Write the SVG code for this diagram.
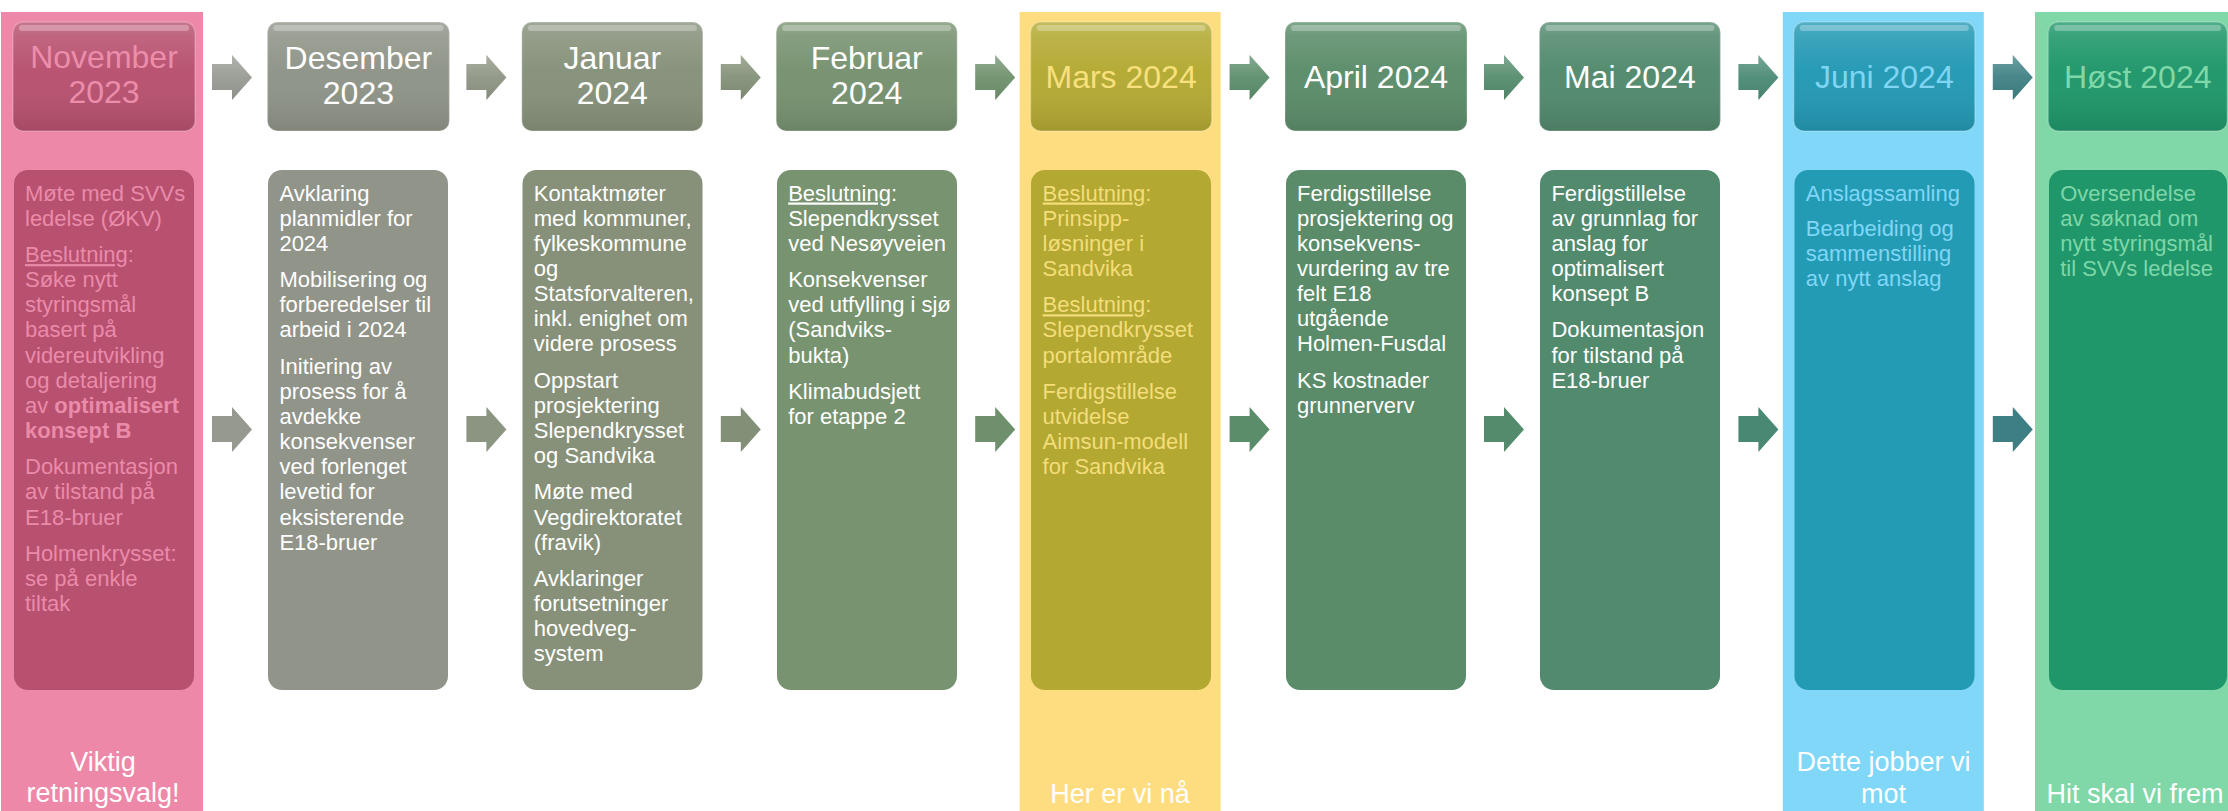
<svg xmlns="http://www.w3.org/2000/svg" xmlns:xlink="http://www.w3.org/1999/xlink" width="2228" height="811" viewBox="0 0 2228 811">
<style>
text{font-family:"Liberation Sans",Arial,Helvetica,sans-serif}
.hd{font-size:32px;text-anchor:middle}
.bd{font-size:22px}
.lb{font-size:27px;fill:#ffffff;text-anchor:middle}
.w{fill:#ffffff}
.u{text-decoration:underline}
.b{font-weight:bold}
.gl{fill:url(#gloss)}
.hl{fill:#ffffff;fill-opacity:0.28}
.rim{fill:none;stroke:#ffffff;stroke-opacity:0.22;stroke-width:1.5}
</style>
<defs>
<linearGradient id="gloss" x1="0" y1="0" x2="0" y2="1">
<stop offset="0" stop-color="#ffffff" stop-opacity="0.22"/>
<stop offset="0.12" stop-color="#ffffff" stop-opacity="0.12"/>
<stop offset="0.45" stop-color="#ffffff" stop-opacity="0.02"/>
<stop offset="1" stop-color="#000000" stop-opacity="0.10"/>
</linearGradient>
<linearGradient id="sheen" x1="0" y1="0" x2="0" y2="1">
<stop offset="0" stop-color="#ffffff" stop-opacity="0.25"/>
<stop offset="0.5" stop-color="#ffffff" stop-opacity="0.05"/>
<stop offset="1" stop-color="#000000" stop-opacity="0.08"/>
</linearGradient>
<path id="arr" d="M0,9 H20 V0 L40,22.5 L20,45 V35 H0 Z"/>
</defs>

<!-- November -->
<g id="nov">
<rect x="1" y="12" width="202" height="799" fill="#EE88A8"/>
<rect x="13" y="22" width="182" height="109" rx="10" fill="#B8516F"/>
<rect x="13" y="22" width="182" height="109" rx="10" class="gl"/>
<rect x="19" y="25" width="170" height="6" rx="3" class="hl"/>
<rect x="13" y="22" width="182" height="109" rx="10" class="rim"/>
<text class="hd" fill="#EC8DAB"><tspan x="104" y="68">November</tspan><tspan x="104" y="103">2023</tspan></text>
<rect x="14" y="170" width="180" height="520" rx="14" fill="#B85070"/>
<text class="bd" fill="#EA8BAA">
<tspan x="25" y="200.5">Møte med SVVs</tspan>
<tspan x="25" y="225.6">ledelse (ØKV)</tspan>
<tspan x="25" y="262.1"><tspan class="u">Beslutning</tspan>:</tspan>
<tspan x="25" y="287.2">Søke nytt</tspan>
<tspan x="25" y="312.3">styringsmål</tspan>
<tspan x="25" y="337.4">basert på</tspan>
<tspan x="25" y="362.5">videreutvikling</tspan>
<tspan x="25" y="387.6">og detaljering</tspan>
<tspan x="25" y="412.7">av <tspan class="b">optimalisert</tspan></tspan>
<tspan x="25" y="437.8" class="b">konsept B</tspan>
<tspan x="25" y="474.3">Dokumentasjon</tspan>
<tspan x="25" y="499.4">av tilstand på</tspan>
<tspan x="25" y="524.5">E18-bruer</tspan>
<tspan x="25" y="561">Holmenkrysset:</tspan>
<tspan x="25" y="586.1">se på enkle</tspan>
<tspan x="25" y="611.2">tiltak</tspan>
</text>
<text class="lb"><tspan x="103" y="771">Viktig</tspan><tspan x="103" y="802">retningsvalg!</tspan></text>
</g>

<!-- Desember -->
<g id="des">
<rect x="267.4" y="22" width="182" height="109" rx="10" fill="#8F9488"/>
<rect x="267.4" y="22" width="182" height="109" rx="10" class="gl"/>
<rect x="273.4" y="25" width="170" height="6" rx="3" class="hl"/>
<rect x="267.4" y="22" width="182" height="109" rx="10" class="rim"/>
<text class="hd w"><tspan x="358.4" y="69">Desember</tspan><tspan x="358.4" y="104">2023</tspan></text>
<rect x="268" y="170" width="180" height="520" rx="14" fill="#919489"/>
<text class="bd w">
<tspan x="279.4" y="200.5">Avklaring</tspan>
<tspan x="279.4" y="225.6">planmidler for</tspan>
<tspan x="279.4" y="250.7">2024</tspan>
<tspan x="279.4" y="287.2">Mobilisering og</tspan>
<tspan x="279.4" y="312.3">forberedelser til</tspan>
<tspan x="279.4" y="337.4">arbeid i 2024</tspan>
<tspan x="279.4" y="373.9">Initiering av</tspan>
<tspan x="279.4" y="399">prosess for å</tspan>
<tspan x="279.4" y="424.1">avdekke</tspan>
<tspan x="279.4" y="449.2">konsekvenser</tspan>
<tspan x="279.4" y="474.3">ved forlenget</tspan>
<tspan x="279.4" y="499.4">levetid for</tspan>
<tspan x="279.4" y="524.5">eksisterende</tspan>
<tspan x="279.4" y="549.6">E18-bruer</tspan>
</text>
</g>

<!-- Januar -->
<g id="jan">
<rect x="521.8" y="22" width="181" height="109" rx="10" fill="#86917A"/>
<rect x="521.8" y="22" width="181" height="109" rx="10" class="gl"/>
<rect x="527.8" y="25" width="169" height="6" rx="3" class="hl"/>
<rect x="521.8" y="22" width="181" height="109" rx="10" class="rim"/>
<text class="hd w"><tspan x="612.3" y="69">Januar</tspan><tspan x="612.3" y="104">2024</tspan></text>
<rect x="522.5" y="170" width="180" height="520" rx="14" fill="#879179"/>
<text class="bd w">
<tspan x="533.8" y="200.5">Kontaktmøter</tspan>
<tspan x="533.8" y="225.6">med kommuner,</tspan>
<tspan x="533.8" y="250.7">fylkeskommune</tspan>
<tspan x="533.8" y="275.8">og</tspan>
<tspan x="533.8" y="300.9">Statsforvalteren,</tspan>
<tspan x="533.8" y="326">inkl. enighet om</tspan>
<tspan x="533.8" y="351.1">videre prosess</tspan>
<tspan x="533.8" y="387.6">Oppstart</tspan>
<tspan x="533.8" y="412.7">prosjektering</tspan>
<tspan x="533.8" y="437.8">Slependkrysset</tspan>
<tspan x="533.8" y="462.9">og Sandvika</tspan>
<tspan x="533.8" y="499.4">Møte med</tspan>
<tspan x="533.8" y="524.5">Vegdirektoratet</tspan>
<tspan x="533.8" y="549.6">(fravik)</tspan>
<tspan x="533.8" y="586.1">Avklaringer</tspan>
<tspan x="533.8" y="611.2">forutsetninger</tspan>
<tspan x="533.8" y="636.3">hovedveg-</tspan>
<tspan x="533.8" y="661.4">system</tspan>
</text>
</g>

<!-- Februar -->
<g id="feb">
<rect x="776.2" y="22" width="181" height="109" rx="10" fill="#779270"/>
<rect x="776.2" y="22" width="181" height="109" rx="10" class="gl"/>
<rect x="782.2" y="25" width="169" height="6" rx="3" class="hl"/>
<rect x="776.2" y="22" width="181" height="109" rx="10" class="rim"/>
<text class="hd w"><tspan x="866.7" y="69">Februar</tspan><tspan x="866.7" y="104">2024</tspan></text>
<rect x="777" y="170" width="180" height="520" rx="14" fill="#78936F"/>
<text class="bd w">
<tspan x="788.2" y="200.5"><tspan class="u">Beslutning</tspan>:</tspan>
<tspan x="788.2" y="225.6">Slependkrysset</tspan>
<tspan x="788.2" y="250.7">ved Nesøyveien</tspan>
<tspan x="788.2" y="287.2">Konsekvenser</tspan>
<tspan x="788.2" y="312.3">ved utfylling i sjø</tspan>
<tspan x="788.2" y="337.4">(Sandviks-</tspan>
<tspan x="788.2" y="362.5">bukta)</tspan>
<tspan x="788.2" y="399">Klimabudsjett</tspan>
<tspan x="788.2" y="424.1">for etappe 2</tspan>
</text>
</g>

<!-- Mars -->
<g id="mar">
<rect x="1019.6" y="12" width="201" height="799" fill="#FEDD80"/>
<rect x="1030.6" y="22" width="181" height="109" rx="10" fill="#B3AA33"/>
<rect x="1030.6" y="22" width="181" height="109" rx="10" class="gl"/>
<rect x="1036.6" y="25" width="169" height="6" rx="3" class="hl"/>
<rect x="1030.6" y="22" width="181" height="109" rx="10" class="rim"/>
<text class="hd" fill="#F8E07D"><tspan x="1121.1" y="88">Mars 2024</tspan></text>
<rect x="1031" y="170" width="180" height="520" rx="14" fill="#B2A832"/>
<text class="bd" fill="#F4DD7A">
<tspan x="1042.6" y="200.5"><tspan class="u">Beslutning</tspan>:</tspan>
<tspan x="1042.6" y="225.6">Prinsipp-</tspan>
<tspan x="1042.6" y="250.7">løsninger i</tspan>
<tspan x="1042.6" y="275.8">Sandvika</tspan>
<tspan x="1042.6" y="312.3"><tspan class="u">Beslutning</tspan>:</tspan>
<tspan x="1042.6" y="337.4">Slependkrysset</tspan>
<tspan x="1042.6" y="362.5">portalområde</tspan>
<tspan x="1042.6" y="399">Ferdigstillelse</tspan>
<tspan x="1042.6" y="424.1">utvidelse</tspan>
<tspan x="1042.6" y="449.2">Aimsun-modell</tspan>
<tspan x="1042.6" y="474.3">for Sandvika</tspan>
</text>
<text class="lb"><tspan x="1120" y="803">Her er vi nå</tspan></text>
</g>

<!-- April -->
<g id="apr">
<rect x="1285" y="22" width="182" height="109" rx="10" fill="#5B8D6A"/>
<rect x="1285" y="22" width="182" height="109" rx="10" class="gl"/>
<rect x="1291" y="25" width="170" height="6" rx="3" class="hl"/>
<rect x="1285" y="22" width="182" height="109" rx="10" class="rim"/>
<text class="hd w"><tspan x="1376" y="88">April 2024</tspan></text>
<rect x="1286" y="170" width="180" height="520" rx="14" fill="#5A8C69"/>
<text class="bd w">
<tspan x="1297" y="200.5">Ferdigstillelse</tspan>
<tspan x="1297" y="225.6">prosjektering og</tspan>
<tspan x="1297" y="250.7">konsekvens-</tspan>
<tspan x="1297" y="275.8">vurdering av tre</tspan>
<tspan x="1297" y="300.9">felt E18</tspan>
<tspan x="1297" y="326">utgående</tspan>
<tspan x="1297" y="351.1">Holmen-Fusdal</tspan>
<tspan x="1297" y="387.6">KS kostnader</tspan>
<tspan x="1297" y="412.7">grunnerverv</tspan>
</text>
</g>

<!-- Mai -->
<g id="mai">
<rect x="1539.4" y="22" width="181" height="109" rx="10" fill="#528A6D"/>
<rect x="1539.4" y="22" width="181" height="109" rx="10" class="gl"/>
<rect x="1545.4" y="25" width="169" height="6" rx="3" class="hl"/>
<rect x="1539.4" y="22" width="181" height="109" rx="10" class="rim"/>
<text class="hd w"><tspan x="1629.9" y="88">Mai 2024</tspan></text>
<rect x="1540" y="170" width="180" height="520" rx="14" fill="#518A6D"/>
<text class="bd w">
<tspan x="1551.4" y="200.5">Ferdigstillelse</tspan>
<tspan x="1551.4" y="225.6">av grunnlag for</tspan>
<tspan x="1551.4" y="250.7">anslag for</tspan>
<tspan x="1551.4" y="275.8">optimalisert</tspan>
<tspan x="1551.4" y="300.9">konsept B</tspan>
<tspan x="1551.4" y="337.4">Dokumentasjon</tspan>
<tspan x="1551.4" y="362.5">for tilstand på</tspan>
<tspan x="1551.4" y="387.6">E18-bruer</tspan>
</text>
</g>

<!-- Juni -->
<g id="jun">
<rect x="1782.8" y="12" width="201" height="799" fill="#80D7F7"/>
<rect x="1793.8" y="22" width="181" height="109" rx="10" fill="#2399B4"/>
<rect x="1793.8" y="22" width="181" height="109" rx="10" class="gl"/>
<rect x="1799.8" y="25" width="169" height="6" rx="3" class="hl"/>
<rect x="1793.8" y="22" width="181" height="109" rx="10" class="rim"/>
<text class="hd" fill="#7FD5F3"><tspan x="1884.3" y="88">Juni 2024</tspan></text>
<rect x="1794.5" y="170" width="180" height="520" rx="14" fill="#239BB5"/>
<text class="bd" fill="#80D6F5">
<tspan x="1805.8" y="200.5">Anslagssamling</tspan>
<tspan x="1805.8" y="236">Bearbeiding og</tspan>
<tspan x="1805.8" y="261.1">sammenstilling</tspan>
<tspan x="1805.8" y="286.2">av nytt anslag</tspan>
</text>
<text class="lb"><tspan x="1883.5" y="771">Dette jobber vi</tspan><tspan x="1883.5" y="803">mot</tspan></text>
</g>

<!-- Høst -->
<g id="host">
<rect x="2035" y="12" width="193" height="799" fill="#80D7A8"/>
<rect x="2048.2" y="22" width="179" height="109" rx="10" fill="#1F976A"/>
<rect x="2048.2" y="22" width="179" height="109" rx="10" class="gl"/>
<rect x="2054.2" y="25" width="167" height="6" rx="3" class="hl"/>
<rect x="2048.2" y="22" width="179" height="109" rx="10" class="rim"/>
<text class="hd" fill="#80D8A9"><tspan x="2137.7" y="88">Høst 2024</tspan></text>
<rect x="2049" y="170" width="178" height="520" rx="14" fill="#1F976A"/>
<text class="bd" fill="#7FD6A8">
<tspan x="2060.2" y="200.5">Oversendelse</tspan>
<tspan x="2060.2" y="225.6">av søknad om</tspan>
<tspan x="2060.2" y="250.7">nytt styringsmål</tspan>
<tspan x="2060.2" y="275.8">til SVVs ledelse</tspan>
</text>
<text class="lb"><tspan x="2135" y="803">Hit skal vi frem</tspan></text>
</g>

<!-- Connectors -->
<g id="connectors">
<use xlink:href="#arr" x="212" y="55" fill="#979B93"/>
<use xlink:href="#arr" x="212" y="55" fill="url(#sheen)"/>
<use xlink:href="#arr" x="212" y="407" fill="#959990"/>
<use xlink:href="#arr" x="466.4" y="55" fill="#8E9583"/>
<use xlink:href="#arr" x="466.4" y="55" fill="url(#sheen)"/>
<use xlink:href="#arr" x="466.4" y="407" fill="#8C9482"/>
<use xlink:href="#arr" x="720.8" y="55" fill="#839178"/>
<use xlink:href="#arr" x="720.8" y="55" fill="url(#sheen)"/>
<use xlink:href="#arr" x="720.8" y="407" fill="#829077"/>
<use xlink:href="#arr" x="975.2" y="55" fill="#6F916C"/>
<use xlink:href="#arr" x="975.2" y="55" fill="url(#sheen)"/>
<use xlink:href="#arr" x="975.2" y="407" fill="#6E906C"/>
<use xlink:href="#arr" x="1229.6" y="55" fill="#5B8E6B"/>
<use xlink:href="#arr" x="1229.6" y="55" fill="url(#sheen)"/>
<use xlink:href="#arr" x="1229.6" y="407" fill="#5A8D6A"/>
<use xlink:href="#arr" x="1484" y="55" fill="#558C6D"/>
<use xlink:href="#arr" x="1484" y="55" fill="url(#sheen)"/>
<use xlink:href="#arr" x="1484" y="407" fill="#548B6C"/>
<use xlink:href="#arr" x="1738.4" y="55" fill="#4A8A74"/>
<use xlink:href="#arr" x="1738.4" y="55" fill="url(#sheen)"/>
<use xlink:href="#arr" x="1738.4" y="407" fill="#498973"/>
<use xlink:href="#arr" x="1992.8" y="55" fill="#3E8084"/>
<use xlink:href="#arr" x="1992.8" y="55" fill="url(#sheen)"/>
<use xlink:href="#arr" x="1992.8" y="407" fill="#3D7F83"/>
</g>
</svg>
